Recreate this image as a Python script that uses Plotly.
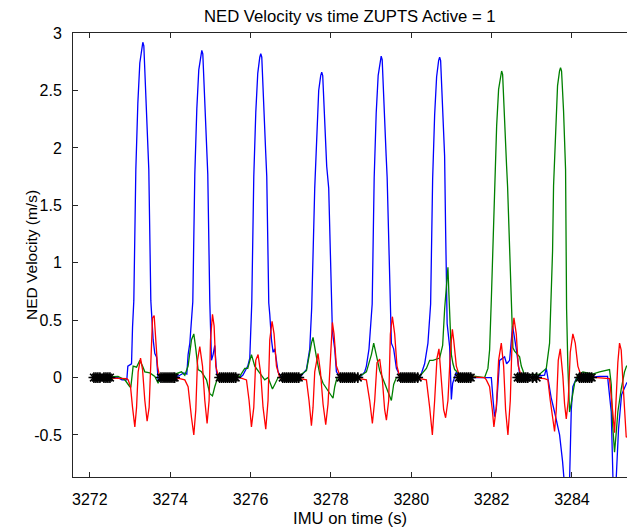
import plotly.graph_objects as go

# ---------------- data ----------------
blue_t = [3272.07, 3272.70, 3272.80, 3272.92, 3272.945, 3273.037, 3273.062, 3273.094, 3273.144, 3273.194,
          3273.243, 3273.293, 3273.318, 3273.343, 3273.393, 3273.442, 3273.467, 3273.517, 3273.535, 3273.575,
          3273.617, 3273.659, 3273.699, 3273.741, 3273.791, 3274.114, 3274.239, 3274.338, 3274.413, 3274.445,
          3274.488, 3274.537, 3274.562, 3274.612, 3274.662, 3274.711, 3274.761, 3274.786, 3274.811, 3274.861,
          3274.910, 3274.935, 3274.985, 3275.027, 3275.067, 3275.109, 3275.152, 3275.184, 3275.731, 3275.806,
          3275.930, 3275.980, 3276.030, 3276.080, 3276.130, 3276.179, 3276.229, 3276.254, 3276.279, 3276.329,
          3276.378, 3276.403, 3276.453, 3276.478, 3276.520, 3276.560, 3276.602, 3276.684, 3276.769, 3277.224,
          3277.299, 3277.391, 3277.473, 3277.522, 3277.597, 3277.647, 3277.696, 3277.746, 3277.771, 3277.796,
          3277.846, 3277.895, 3277.945, 3278.012, 3278.037, 3278.095, 3278.137, 3278.219, 3278.716, 3278.841,
          3278.883, 3278.948, 3279.027, 3279.077, 3279.127, 3279.176, 3279.226, 3279.251, 3279.276, 3279.326,
          3279.375, 3279.400, 3279.470, 3279.505, 3279.562, 3279.630, 3279.711, 3280.209, 3280.333, 3280.415,
          3280.482, 3280.532, 3280.582, 3280.631, 3280.681, 3280.706, 3280.731, 3280.781, 3280.830, 3280.855,
          3280.893, 3280.955, 3280.998, 3281.030, 3281.122, 3281.204, 3281.826, 3281.993, 3282.037, 3282.075,
          3282.117, 3282.174, 3282.199, 3282.323, 3282.373, 3282.448, 3282.522, 3282.614, 3282.697, 3282.821,
          3283.318, 3283.361, 3283.485, 3283.567, 3283.692, 3283.766, 3283.841, 3283.891, 3283.940, 3283.983,
          3284.022, 3284.107, 3284.687, 3284.886, 3284.978, 3285.022, 3285.085, 3285.159, 3285.234, 3285.358,
          3285.48]
blue_v = [0.0, 0.0, -0.02, -0.02, 0.10, 0.12, 0.44, 0.67, 1.81, 2.39,
          2.74, 2.89, 2.92, 2.89, 2.51, 2.01, 1.81, 0.67, 0.53, 0.33,
          0.21, 0.18, -0.02, -0.03, 0.01, 0.0, 0.02, 0.04, 0.03, 0.20,
          0.30, 0.50, 0.66, 1.77, 2.34, 2.68, 2.82, 2.85, 2.82, 2.45,
          1.97, 1.77, 0.66, 0.15, 0.20, 0.28, 0.05, 0.01, 0.0, 0.02,
          0.10, 0.17, 0.65, 1.75, 2.31, 2.65, 2.79, 2.82, 2.79, 2.43,
          1.95, 1.75, 0.65, 0.55, 0.33, 0.22, 0.25, 0.05, 0.0, 0.0,
          0.03, 0.07, 0.25, 0.61, 1.65, 2.18, 2.50, 2.63, 2.66, 2.63,
          2.29, 1.84, 1.65, 0.61, 0.40, 0.25, 0.05, 0.01, 0.0, 0.05,
          0.10, 0.25, 0.64, 1.74, 2.30, 2.63, 2.77, 2.80, 2.77, 2.41,
          1.93, 1.74, 0.64, 0.30, 0.25, 0.08, 0.02, -0.01, 0.12, 0.30,
          0.64, 1.73, 2.29, 2.62, 2.76, 2.79, 2.76, 2.40, 1.93, 1.29,
          0.47, 0.27, -0.19, -0.05, 0.05, 0.0, 0.0, 0.0, -0.20, -0.34,
          -0.27, 0.10, 0.15, 0.18, 0.12, 0.15, 0.45, 0.25, 0.03, 0.0,
          0.02, 0.08, -0.18, -0.30, -0.50, -0.73, -1.05, -1.10, -0.90, -0.28,
          -0.08, -0.01, 0.01, 0.01, -0.30, -0.90, -1.00, -0.45, -0.15, -0.05,
          0.0]

green_t = [3272.07, 3272.70, 3272.87, 3272.995, 3273.020, 3273.077, 3273.162, 3273.244, 3273.311, 3273.368,
           3273.493, 3273.617, 3273.699, 3273.784, 3274.114, 3274.281, 3274.363, 3274.445, 3274.530, 3274.587,
           3274.637, 3274.694, 3274.779, 3274.903, 3274.985, 3275.052, 3275.109, 3275.192, 3275.731, 3275.856,
           3275.930, 3276.022, 3276.104, 3276.229, 3276.353, 3276.435, 3276.545, 3276.602, 3276.684, 3277.224,
           3277.391, 3277.515, 3277.555, 3277.639, 3277.722, 3277.804, 3277.928, 3278.052, 3278.095, 3278.152,
           3278.716, 3278.883, 3279.008, 3279.065, 3279.147, 3279.214, 3279.338, 3279.421, 3279.505, 3279.562,
           3279.630, 3280.209, 3280.376, 3280.458, 3280.540, 3280.706, 3280.781, 3280.831, 3280.873, 3280.913,
           3280.938, 3280.973, 3280.998, 3281.038, 3281.080, 3281.204, 3281.826, 3281.908, 3281.950, 3281.993,
           3282.050, 3282.075, 3282.125, 3282.174, 3282.224, 3282.249, 3282.274, 3282.324, 3282.373, 3282.398,
           3282.448, 3282.490, 3282.530, 3282.572, 3282.697, 3282.739, 3282.821, 3283.194, 3283.361, 3283.443,
           3283.485, 3283.517, 3283.542, 3283.592, 3283.641, 3283.691, 3283.716, 3283.741, 3283.791, 3283.841,
           3283.866, 3283.898, 3283.940, 3283.983, 3284.065, 3284.147, 3284.272, 3284.512, 3284.687, 3284.935,
           3284.978, 3285.010, 3285.060, 3285.102, 3285.142, 3285.184, 3285.226, 3285.308, 3285.358, 3285.48]
green_v = [0.0, 0.01, -0.02, -0.08, -0.08, 0.10, 0.09, 0.15, 0.10, 0.05,
           0.04, 0.01, -0.05, 0.02, 0.03, 0.05, 0.02, 0.10, 0.33, 0.38,
           0.25, 0.07, 0.05, -0.02, -0.14, -0.16, -0.08, 0.01, 0.01, 0.08,
           0.08, 0.20, 0.10, 0.04, -0.02, 0.0, -0.10, -0.06, 0.0, 0.02,
           0.06, 0.30, 0.35, 0.18, 0.03, -0.05, -0.12, -0.18, -0.08, 0.0,
           0.01, 0.05, 0.20, 0.30, 0.17, 0.06, -0.05, -0.12, -0.20, -0.06,
           0.0, 0.01, 0.08, 0.15, 0.15, 0.17, 0.28, 0.60, 0.83, 0.96,
           0.72, 0.43, 0.20, 0.12, 0.07, 0.03, 0.0, 0.08, 0.24, 0.68,
           1.40, 1.66, 2.19, 2.51, 2.64, 2.67, 2.64, 2.30, 1.84, 1.66,
           1.11, 0.53, 0.26, 0.23, 0.18, 0.10, 0.02, 0.03, 0.08, 0.30,
           0.68, 1.10, 1.67, 2.21, 2.54, 2.67, 2.70, 2.67, 2.32, 1.81,
           0.60, 0.10, -0.30, -0.22, -0.05, 0.02, 0.05, 0.03, 0.05, 0.07,
           -0.06, -0.40, -0.65, -0.48, -0.30, -0.20, -0.10, 0.05, 0.10, 0.10]

red_t = [3272.07, 3272.92, 3272.953, 3273.012, 3273.062, 3273.119, 3273.162, 3273.202, 3273.261, 3273.311,
         3273.368, 3273.425, 3273.475, 3273.510, 3273.560, 3273.600, 3273.642, 3273.684, 3273.741, 3274.239,
         3274.363, 3274.445, 3274.530, 3274.587, 3274.637, 3274.679, 3274.736, 3274.804, 3274.861, 3274.918,
         3274.968, 3275.003, 3275.052, 3275.092, 3275.134, 3275.192, 3275.731, 3275.898, 3275.963, 3276.022,
         3276.080, 3276.129, 3276.187, 3276.254, 3276.311, 3276.378, 3276.435, 3276.478, 3276.535, 3276.585,
         3276.644, 3276.726, 3277.224, 3277.391, 3277.455, 3277.515, 3277.555, 3277.597, 3277.679, 3277.739,
         3277.804, 3277.871, 3277.928, 3277.988, 3278.037, 3278.077, 3278.137, 3278.219, 3278.716, 3278.883,
         3278.965, 3279.032, 3279.090, 3279.147, 3279.214, 3279.281, 3279.338, 3279.381, 3279.438, 3279.480,
         3279.530, 3279.587, 3279.644, 3279.711, 3280.209, 3280.376, 3280.458, 3280.525, 3280.582, 3280.640,
         3280.689, 3280.749, 3280.806, 3280.855, 3280.913, 3280.973, 3281.023, 3281.055, 3281.122, 3281.204,
         3281.826, 3281.868, 3281.950, 3282.017, 3282.057, 3282.117, 3282.174, 3282.241, 3282.299, 3282.348,
         3282.406, 3282.465, 3282.515, 3282.555, 3282.614, 3282.664, 3282.739, 3283.318, 3283.401, 3283.460,
         3283.525, 3283.567, 3283.610, 3283.659, 3283.709, 3283.774, 3283.816, 3283.858, 3283.908, 3283.958,
         3284.022, 3284.082, 3284.147, 3284.232, 3284.935, 3284.978, 3285.018, 3285.060, 3285.102, 3285.142,
         3285.184, 3285.226, 3285.266, 3285.308, 3285.351, 3285.43]
red_v = [0.0, -0.01, -0.02, -0.08, -0.26, -0.43, -0.26, 0.05, 0.17, 0.07,
         -0.20, -0.38, -0.26, 0.10, 0.52, 0.54, 0.31, 0.10, 0.0, -0.01,
         -0.02, -0.08, -0.35, -0.50, -0.28, 0.15, 0.27, 0.10, -0.20, -0.40,
         -0.20, 0.33, 0.55, 0.45, 0.10, 0.02, 0.0, -0.02, -0.20, -0.43,
         -0.26, 0.15, 0.20, 0.03, -0.26, -0.45, -0.20, 0.33, 0.49, 0.38,
         0.10, 0.0, -0.01, -0.02, -0.20, -0.42, -0.26, 0.05, 0.21, 0.05,
         -0.23, -0.41, -0.23, 0.22, 0.48, 0.38, 0.10, 0.02, -0.01, -0.02,
         -0.20, -0.40, -0.20, 0.13, 0.16, -0.02, -0.28, -0.37, -0.20, 0.38,
         0.53, 0.38, 0.10, 0.01, -0.01, -0.02, -0.26, -0.50, -0.20, 0.17,
         0.25, -0.05, -0.28, -0.35, -0.20, 0.22, 0.42, 0.33, 0.10, 0.01,
         0.0, -0.02, -0.08, -0.28, -0.43, -0.26, 0.15, 0.30, 0.10, -0.28,
         -0.50, -0.20, 0.38, 0.52, 0.38, 0.10, 0.01, -0.01, -0.02, -0.20,
         -0.37, -0.47, -0.28, 0.15, 0.25, 0.01, -0.23, -0.36, -0.20, 0.22,
         0.38, 0.30, 0.10, 0.01, -0.01, -0.15, -0.31, -0.48, -0.13, 0.13,
         0.30, 0.24, -0.02, -0.31, -0.52, -0.50]

zupt_t = [3272.10, 3272.15, 3272.20, 3272.25, 3272.35, 3272.40, 3272.45, 3272.50,
          3273.77, 3273.82, 3273.87, 3273.92, 3273.97, 3274.02, 3274.07, 3274.11,
          3275.23, 3275.28, 3275.33, 3275.38, 3275.43, 3275.48, 3275.53, 3275.58, 3275.63,
          3276.80, 3276.85, 3276.90, 3276.95, 3277.00, 3277.05, 3277.10, 3277.15, 3277.20,
          3278.24, 3278.29, 3278.34, 3278.39, 3278.44, 3278.49, 3278.54, 3278.59, 3278.67,
          3279.74, 3279.79, 3279.84, 3279.89, 3279.94, 3279.99, 3280.04, 3280.09, 3280.16,
          3281.18, 3281.23, 3281.28, 3281.33, 3281.38, 3281.43, 3281.48,
          3282.65, 3282.70, 3282.75, 3282.80, 3282.85, 3282.90, 3283.02, 3283.12,
          3284.19, 3284.24, 3284.29, 3284.34, 3284.39, 3284.44, 3284.49]
zupt_v = [0, 0, 0, 0, 0, 0, 0, 0,
          0, 0, 0, 0, 0, 0, 0, 0,
          0, 0, 0, 0, 0, 0, 0, 0, 0,
          0, 0, 0, 0, 0, 0, 0, 0, 0,
          0, 0, 0, 0, 0, 0, 0, 0, 0,
          0, 0, 0, 0, 0, 0, 0, 0, 0,
          0, 0, 0, 0, 0, 0, 0,
          0, 0, 0, 0, 0, 0, 0, 0,
          0, 0, 0, 0, 0, 0, 0]

x_ticks = [3272, 3274, 3276, 3278, 3280, 3282, 3284]
y_ticks = [-0.5, 0, 0.5, 1, 1.5, 2, 2.5, 3]
y_tick_text = ["-0.5", "0", "0.5", "1", "1.5", "2", "2.5", "3"]

title_text = "NED Velocity vs time ZUPTS Active = 1"
x_label = "IMU on time (s)"
y_label = "NED Velocity (m/s)"

# ---------------- figure ----------------
FONT = "Liberation Sans, Arial, Helvetica, sans-serif"

fig = go.Figure()
fig.add_trace(go.Scatter(x=blue_t, y=blue_v, mode="lines",
                         line=dict(color="#0000ff", width=1.3), showlegend=False))
fig.add_trace(go.Scatter(x=green_t, y=green_v, mode="lines",
                         line=dict(color="#008000", width=1.3), showlegend=False))
fig.add_trace(go.Scatter(x=red_t, y=red_v, mode="lines",
                         line=dict(color="#ff0000", width=1.3), showlegend=False))
fig.add_trace(go.Scatter(x=zupt_t, y=zupt_v, mode="markers",
                         marker=dict(symbol="asterisk-open", size=9, color="black",
                                     line=dict(color="black", width=1.6)),
                         showlegend=False))

fig.update_layout(
    width=627, height=527,
    margin=dict(l=73, r=0, t=33, b=50, pad=0),
    paper_bgcolor="white", plot_bgcolor="white",
    font=dict(family=FONT, size=16, color="black"),
    showlegend=False,
    annotations=[
        dict(text=title_text, xref="paper", yref="paper", x=0.5, y=1,
             yshift=17, xanchor="center", yanchor="middle", showarrow=False,
             font=dict(family=FONT, size=16.7, color="black")),
        dict(text=x_label, xref="paper", yref="paper", x=0.5, y=0,
             yshift=-41, xanchor="center", yanchor="middle", showarrow=False,
             font=dict(family=FONT, size=16.7, color="black")),
        dict(text=y_label, xref="paper", yref="paper", x=0, y=0.5,
             xshift=-42, xanchor="center", yanchor="middle", showarrow=False,
             textangle=-90, font=dict(family=FONT, size=15.5, color="black")),
    ],
)
fig.update_xaxes(range=[3271.58, 3285.37], tickvals=x_ticks, ticktext=[str(v) for v in x_ticks],
                 showgrid=False, zeroline=False, showline=True, linecolor="#262626", linewidth=1,
                 mirror="ticks", ticks="inside", ticklen=5, tickwidth=1, tickcolor="#262626",
                 ticklabelstandoff=8, tickfont=dict(size=16))
fig.update_yaxes(range=[-0.866, 3.001], tickvals=y_ticks, ticktext=y_tick_text,
                 showgrid=False, zeroline=False, showline=True, linecolor="#262626", linewidth=1,
                 mirror=False, ticks="inside", ticklen=5, tickwidth=1, tickcolor="#262626",
                 ticklabelstandoff=7, tickfont=dict(size=16))

fig.write_html("out.html")
